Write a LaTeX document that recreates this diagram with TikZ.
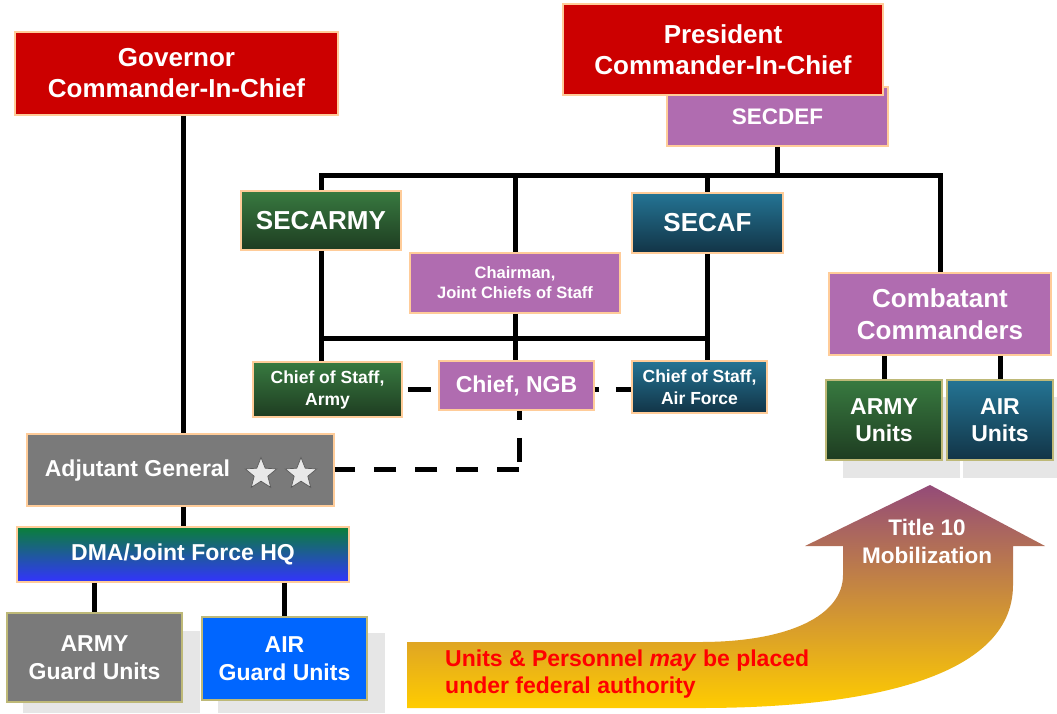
\documentclass[tikz,border=0pt]{standalone}
\usepackage{fontspec}
\setmainfont{Liberation Sans}
\usetikzlibrary{shapes.geometric}
\definecolor{cRed}{RGB}{204,0,0}
\definecolor{cPeach}{RGB}{255,204,153}
\definecolor{cPurple}{RGB}{176,108,176}
\definecolor{cGreenT}{RGB}{56,122,64}
\definecolor{cGreenB}{RGB}{30,60,33}
\definecolor{cTealT}{RGB}{36,116,148}
\definecolor{cTealB}{RGB}{18,52,70}
\definecolor{cGray}{RGB}{122,122,122}
\definecolor{cDmaT}{RGB}{10,128,56}
\definecolor{cDmaB}{RGB}{51,51,255}
\definecolor{cAirBlue}{RGB}{0,102,255}
\definecolor{cKhaki}{RGB}{190,185,120}
\definecolor{cShadow}{RGB}{230,230,230}
\definecolor{cArrowT}{RGB}{148,75,120}
\definecolor{cArrowM}{RGB}{214,158,86}
\definecolor{cArrowB}{RGB}{255,204,0}
\definecolor{cStar}{RGB}{232,232,232}
\tikzset{
  box/.style={draw=cPeach, line width=1.8pt, inner sep=0pt, align=center, text=white, font=\bfseries},
  redbox/.style={box, fill=cRed},
  purplebox/.style={box, fill=cPurple},
  greenbox/.style={box, top color=cGreenT, bottom color=cGreenB},
  tealbox/.style={box, top color=cTealT, bottom color=cTealB},
  graybox/.style={box, fill=cGray},
  dmabox/.style={box, top color=cDmaT, bottom color=cDmaB},
  unitedge/.style={draw=cKhaki},
  shadowbox/.style={fill=cShadow, draw=none},
  boxtext/.style={inner sep=0pt, text=white, font=\bfseries, align=center},
  conn/.style={line width=5pt},
  starmark/.style={star, star points=5, star point ratio=2.3, minimum size=33pt, inner sep=0pt, fill=cStar, draw=gray!70!black, line width=0.7pt}
}
\newcommand{\fsz}[2]{\fontsize{#1}{#2}\selectfont}
\begin{document}
\begin{tikzpicture}[x=1pt,y=-1pt]
\useasboundingbox (0,0) rectangle (1057,713);

% shadows of unit boxes
\path[shadowbox] (23,631) rectangle (200,713);
\path[shadowbox] (218,633) rectangle (385,713);
\path[shadowbox] (843,397) rectangle (960,478);
\path[shadowbox] (963,397) rectangle (1057,478);

% mobilization arrow
\path[top color=cArrowT, middle color=cArrowM, bottom color=cArrowB]
  (407,642) -- (700,642) .. controls (790,642) and (843,615) .. (843,575)
  -- (843,546) -- (805,546) -- (930,485) -- (1045,546) -- (1013,546) -- (1013,585)
  .. controls (1013,680) and (860,708) .. (700,708) -- (407,708) -- cycle;
\node[boxtext, font=\bfseries\fsz{22.5}{28}] (title10) at (927,541) {Title 10\\Mobilization};
\node[inner sep=0pt, anchor=west, align=left, text=red, font=\bfseries\fsz{23}{27}] (fedtext) at (445,674)
  {Units \& Personnel \textit{may} be placed\\under federal authority};

% boxes
\node[redbox, minimum width=323pt, minimum height=83pt, font=\bfseries\fsz{26}{31}] (gov) at (176.5,73.5) {Governor\\Commander-In-Chief};
\node[purplebox, minimum width=221pt, minimum height=59pt, font=\bfseries\fsz{22.5}{26}] (secdef) at (777.5,116.5) {SECDEF};
\node[redbox, minimum width=320pt, minimum height=91pt, font=\bfseries\fsz{26}{31}] (pres) at (723,49.5) {President\\Commander-In-Chief};
\node[greenbox, minimum width=160pt, minimum height=59pt, font=\bfseries\fsz{26}{31}] (secarmy) at (321,220.5) {SECARMY};
\node[tealbox, minimum width=151pt, minimum height=60pt, font=\bfseries\fsz{26}{31}] (secaf) at (707.5,223) {SECAF};
\node[purplebox, minimum width=210pt, minimum height=60pt, font=\bfseries\fsz{16.5}{20}] (chair) at (515,283) {Chairman,\\Joint Chiefs of Staff};
\node[greenbox, minimum width=149pt, minimum height=55pt, font=\bfseries\fsz{17.5}{22}] (cosa) at (327.5,389.5) {Chief of Staff,\\Army};
\node[purplebox, minimum width=155pt, minimum height=49pt, font=\bfseries\fsz{23}{27}] (ngb) at (516.5,385.5) {Chief, NGB};
\node[tealbox, minimum width=135pt, minimum height=52pt, font=\bfseries\fsz{17.5}{22}] (cosaf) at (699.5,387) {Chief of Staff,\\Air Force};
\node[purplebox, minimum width=222pt, minimum height=82pt, font=\bfseries\fsz{26}{32}] (cc) at (940,314) {Combatant\\Commanders};
\node[greenbox, unitedge, minimum width=116pt, minimum height=80pt, font=\bfseries\fsz{23}{27}] (armyu) at (884,420) {ARMY\\Units};
\node[tealbox, unitedge, minimum width=106pt, minimum height=80pt, font=\bfseries\fsz{23}{27}] (airu) at (1000,420) {AIR\\Units};
\node[graybox, minimum width=307pt, minimum height=72pt] (ag) at (180.5,470) {};
\node[boxtext, font=\bfseries\fsz{23}{27}] (agtext) at (137.5,471) {Adjutant General};
\node[starmark] (star1) at (261,474) {};
\node[starmark] (star2) at (301,474) {};
\node[dmabox, minimum width=332pt, minimum height=55pt, font=\bfseries\fsz{23}{27}] (dma) at (183,554.5) {DMA/Joint Force HQ};
\node[graybox, unitedge, minimum width=175pt, minimum height=89pt, font=\bfseries\fsz{23}{28}] (armyg) at (94.5,657.5) {ARMY\\Guard Units};
\node[box, fill=cAirBlue, unitedge, minimum width=165pt, minimum height=83pt, font=\bfseries\fsz{23}{28}] (airg) at (284.5,658.5) {AIR\\Guard Units};

% connector coordinates
\coordinate (topbar) at (0,175);
\coordinate (lowbar) at (0,338);
\coordinate (agcorner) at (519,469);

% state chain
\draw[conn] (gov.south -| dma.north) -- (ag.north -| dma.north);
\draw[conn] (ag.south -| dma.north) -- (dma.north);
\draw[conn] (dma.south -| armyg.north) -- (armyg.north);
\draw[conn] (dma.south -| airg.north) -- (airg.north);

% federal chain
\draw[conn] (secdef.south) -- (secdef.south |- topbar);
\draw[conn] (secarmy.north) -- (secarmy.north |- topbar) -- (cc.north |- topbar) -- (cc.north);
\draw[conn] (chair.north |- topbar) -- (chair.north);
\draw[conn] (secaf.north |- topbar) -- (secaf.north);
\draw[conn] (secarmy.south) -- (secarmy.south |- cosa.north);
\draw[conn] (secaf.south) -- (secaf.south |- cosaf.north);
\draw[conn] (secarmy.south |- lowbar) -- (secaf.south |- lowbar);
\draw[conn] (chair.south) -- (chair.south |- ngb.north);
\draw[conn] (cc.south -| armyu.north) -- (armyu.north);
\draw[conn] (cc.south -| airu.north) -- (airu.north);

% coordination (dashed)
\draw[conn, dash pattern=on 23pt off 17pt, dash phase=35pt] (cosa.east) -- (cosa.east -| ngb.west);
\draw[conn, dash pattern=on 23pt off 17pt, dash phase=19pt] (ngb.east |- cosa.east) -- (cosaf.west |- cosa.east);
\draw[conn, dash pattern=on 9pt off 18pt on 24pt off 40pt] (ngb.south -| agcorner) -- (agcorner);
\draw[conn, dash pattern=on 22pt off 19pt] (agcorner) -- (agcorner -| ag.east);
\end{tikzpicture}
\end{document}
